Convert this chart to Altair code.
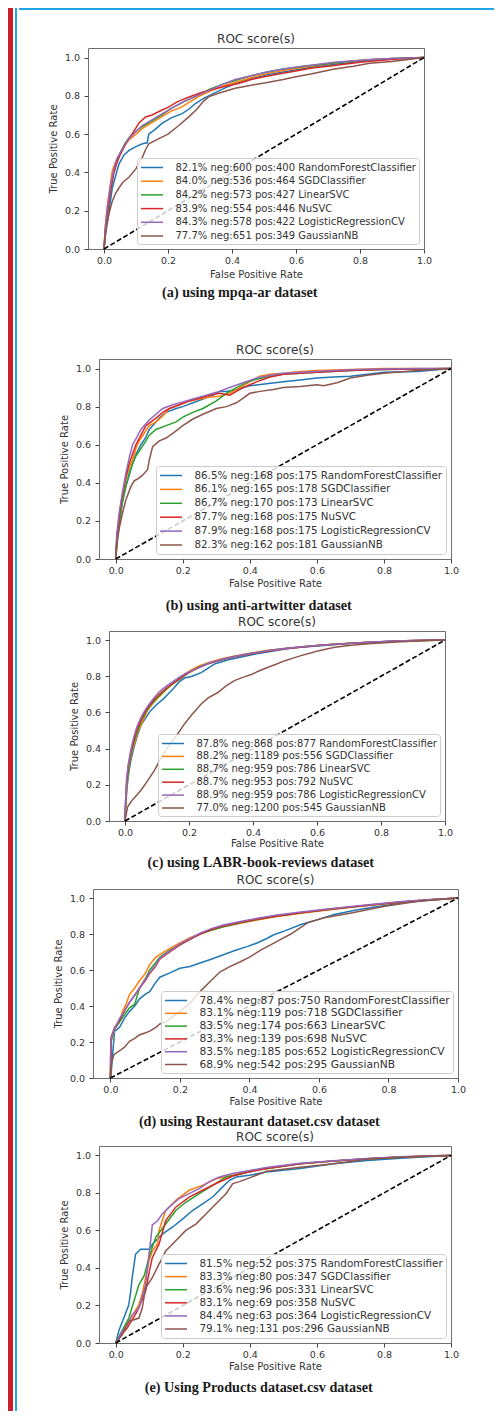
import altair as alt
import pandas as pd

# ---------------- data ----------------
CLASSIFIERS = ["RandomForestClassifier", "SGDClassifier", "LinearSVC", "NuSVC",
               "LogisticRegressionCV", "GaussianNB"]
TAB = ["#1f77b4", "#ff7f0e", "#2ca02c", "#d62728", "#9467bd", "#8c564b"]
TICKS = [0.0, 0.2, 0.4, 0.6, 0.8, 1.0]
DIAG_X = [0.0, 1.0]
DIAG_Y = [0.0, 1.0]

# (a) mpqa-ar
A_SCORES = ["82.1% neg:600 pos:400", "84.0% neg:536 pos:464", "84.2% neg:573 pos:427",
            "83.9% neg:554 pos:446", "84.3% neg:578 pos:422", "77.7% neg:651 pos:349"]
A_RF_X = [0, 0.005, 0.016, 0.026, 0.036, 0.047, 0.062, 0.078, 0.10, 0.12, 0.135, 0.14, 0.16, 0.18, 0.21, 0.244, 0.265, 0.286, 0.31, 0.327, 0.37, 0.41, 0.46, 0.51, 0.56, 0.62, 0.67, 0.72, 0.78, 0.83, 0.9, 0.95, 1.0]
A_RF_Y = [0, 0.08, 0.20, 0.32, 0.38, 0.445, 0.49, 0.515, 0.535, 0.55, 0.555, 0.60, 0.625, 0.655, 0.685, 0.707, 0.73, 0.76, 0.785, 0.80, 0.835, 0.864, 0.89, 0.91, 0.925, 0.942, 0.955, 0.965, 0.975, 0.986, 0.993, 0.997, 1.0]
A_SGD_X = [0, 0.004, 0.01, 0.02, 0.026, 0.035, 0.047, 0.06, 0.078, 0.10, 0.12, 0.15, 0.18, 0.21, 0.24, 0.27, 0.30, 0.34, 0.38, 0.42, 0.47, 0.52, 0.57, 0.62, 0.67, 0.72, 0.78, 0.84, 0.9, 0.95, 1.0]
A_SGD_Y = [0, 0.12, 0.22, 0.34, 0.41, 0.45, 0.49, 0.53, 0.57, 0.60, 0.63, 0.66, 0.69, 0.72, 0.74, 0.77, 0.80, 0.83, 0.855, 0.875, 0.90, 0.92, 0.935, 0.948, 0.96, 0.972, 0.982, 0.99, 0.995, 0.998, 1.0]
A_LSVC_X = [0, 0.005, 0.012, 0.022, 0.03, 0.04, 0.05, 0.065, 0.08, 0.10, 0.12, 0.15, 0.18, 0.21, 0.25, 0.29, 0.33, 0.37, 0.41, 0.46, 0.51, 0.56, 0.62, 0.67, 0.72, 0.78, 0.84, 0.9, 0.95, 1.0]
A_LSVC_Y = [0, 0.10, 0.20, 0.33, 0.40, 0.45, 0.50, 0.55, 0.585, 0.615, 0.64, 0.67, 0.70, 0.735, 0.77, 0.80, 0.835, 0.86, 0.88, 0.905, 0.925, 0.94, 0.953, 0.963, 0.972, 0.982, 0.99, 0.995, 0.998, 1.0]
A_NU_X = [0, 0.004, 0.01, 0.02, 0.03, 0.04, 0.05, 0.065, 0.08, 0.095, 0.11, 0.13, 0.15, 0.18, 0.2, 0.23, 0.26, 0.3, 0.34, 0.38, 0.42, 0.46, 0.5, 0.55, 0.6, 0.65, 0.7, 0.75, 0.8, 0.86, 0.92, 0.96, 1.0]
A_NU_Y = [0, 0.09, 0.18, 0.30, 0.39, 0.45, 0.49, 0.54, 0.58, 0.62, 0.66, 0.69, 0.70, 0.725, 0.74, 0.77, 0.79, 0.815, 0.835, 0.85, 0.865, 0.885, 0.90, 0.915, 0.93, 0.945, 0.955, 0.965, 0.975, 0.985, 0.992, 0.997, 1.0]
A_LR_X = [0, 0.004, 0.01, 0.02, 0.03, 0.04, 0.05, 0.065, 0.08, 0.1, 0.12, 0.15, 0.18, 0.21, 0.25, 0.29, 0.33, 0.37, 0.41, 0.46, 0.51, 0.56, 0.62, 0.67, 0.72, 0.78, 0.84, 0.9, 0.95, 1.0]
A_LR_Y = [0, 0.11, 0.21, 0.33, 0.41, 0.47, 0.50, 0.545, 0.58, 0.615, 0.645, 0.675, 0.705, 0.735, 0.77, 0.80, 0.83, 0.86, 0.885, 0.905, 0.925, 0.94, 0.955, 0.965, 0.975, 0.984, 0.99, 0.995, 0.998, 1.0]
A_GNB_X = [0, 0.003, 0.008, 0.015, 0.026, 0.036, 0.047, 0.06, 0.078, 0.1, 0.12, 0.13, 0.14, 0.17, 0.2, 0.23, 0.265, 0.29, 0.31, 0.327, 0.36, 0.41, 0.46, 0.51, 0.56, 0.6, 0.65, 0.72, 0.78, 0.83, 0.9, 0.95, 1.0]
A_GNB_Y = [0, 0.06, 0.12, 0.18, 0.25, 0.29, 0.32, 0.35, 0.375, 0.42, 0.48, 0.52, 0.55, 0.575, 0.60, 0.64, 0.69, 0.73, 0.77, 0.795, 0.815, 0.84, 0.855, 0.87, 0.885, 0.90, 0.915, 0.94, 0.955, 0.97, 0.98, 0.99, 1.0]

# (b) anti-artwitter
B_SCORES = ["86.5% neg:168 pos:175", "86.1% neg:165 pos:178", "86.7% neg:170 pos:173",
            "87.7% neg:168 pos:175", "87.9% neg:168 pos:175", "82.3% neg:162 pos:181"]
B_RF_X = [0, 0.003, 0.01, 0.02, 0.03, 0.04, 0.05, 0.06, 0.075, 0.09, 0.1, 0.115, 0.13, 0.15, 0.18, 0.2, 0.23, 0.26, 0.29, 0.31, 0.33, 0.36, 0.4, 0.45, 0.5, 0.55, 0.6, 0.65, 0.7, 0.75, 0.8, 0.9, 1.0]
B_RF_Y = [0, 0.12, 0.2, 0.3, 0.38, 0.44, 0.5, 0.55, 0.6, 0.64, 0.68, 0.71, 0.74, 0.77, 0.79, 0.80, 0.82, 0.84, 0.86, 0.88, 0.88, 0.89, 0.91, 0.92, 0.93, 0.94, 0.95, 0.955, 0.96, 0.97, 0.98, 0.985, 1.0]
B_SGD_X = [0, 0.003, 0.01, 0.02, 0.03, 0.04, 0.05, 0.06, 0.07, 0.085, 0.1, 0.12, 0.14, 0.16, 0.19, 0.22, 0.25, 0.28, 0.31, 0.34, 0.37, 0.4, 0.43, 0.46, 0.5, 0.55, 0.6, 0.7, 0.8, 0.9, 1.0]
B_SGD_Y = [0, 0.1, 0.2, 0.32, 0.42, 0.48, 0.52, 0.58, 0.62, 0.66, 0.70, 0.72, 0.75, 0.79, 0.81, 0.83, 0.84, 0.85, 0.855, 0.87, 0.9, 0.93, 0.96, 0.97, 0.975, 0.985, 0.99, 0.995, 1.0, 1.0, 1.0]
B_LSVC_X = [0, 0.005, 0.012, 0.02, 0.03, 0.04, 0.05, 0.06, 0.075, 0.09, 0.1, 0.12, 0.15, 0.18, 0.2, 0.23, 0.26, 0.3, 0.33, 0.36, 0.4, 0.45, 0.5, 0.6, 0.7, 0.8, 0.9, 1.0]
B_LSVC_Y = [0, 0.1, 0.2, 0.3, 0.38, 0.45, 0.5, 0.54, 0.58, 0.62, 0.65, 0.68, 0.70, 0.72, 0.745, 0.77, 0.79, 0.83, 0.87, 0.9, 0.935, 0.955, 0.97, 0.98, 0.99, 0.995, 0.998, 1.0]
B_NU_X = [0, 0.004, 0.01, 0.02, 0.03, 0.04, 0.05, 0.06, 0.075, 0.09, 0.105, 0.12, 0.14, 0.16, 0.19, 0.22, 0.25, 0.28, 0.31, 0.34, 0.36, 0.38, 0.42, 0.46, 0.5, 0.6, 0.7, 0.8, 0.9, 1.0]
B_NU_Y = [0, 0.11, 0.22, 0.34, 0.43, 0.5, 0.55, 0.6, 0.65, 0.7, 0.72, 0.74, 0.77, 0.79, 0.81, 0.83, 0.845, 0.86, 0.87, 0.86, 0.88, 0.9, 0.93, 0.955, 0.97, 0.98, 0.99, 0.995, 0.998, 1.0]
B_LR_X = [0, 0.003, 0.01, 0.02, 0.03, 0.04, 0.05, 0.06, 0.075, 0.09, 0.1, 0.12, 0.14, 0.17, 0.2, 0.23, 0.26, 0.3, 0.34, 0.38, 0.42, 0.46, 0.5, 0.6, 0.7, 0.8, 0.9, 1.0]
B_LR_Y = [0, 0.13, 0.24, 0.35, 0.45, 0.53, 0.6, 0.63, 0.68, 0.71, 0.73, 0.76, 0.79, 0.81, 0.825, 0.84, 0.855, 0.875, 0.9, 0.925, 0.95, 0.965, 0.975, 0.985, 0.993, 0.997, 1.0, 1.0]
B_GNB_X = [0, 0.003, 0.01, 0.02, 0.03, 0.045, 0.055, 0.065, 0.08, 0.095, 0.1, 0.11, 0.13, 0.15, 0.17, 0.2, 0.23, 0.26, 0.3, 0.33, 0.36, 0.38, 0.4, 0.43, 0.47, 0.5, 0.55, 0.6, 0.62, 0.66, 0.7, 0.75, 0.8, 0.9, 1.0]
B_GNB_Y = [0, 0.08, 0.16, 0.24, 0.31, 0.38, 0.41, 0.42, 0.44, 0.47, 0.52, 0.59, 0.62, 0.635, 0.66, 0.70, 0.735, 0.76, 0.79, 0.80, 0.82, 0.845, 0.87, 0.88, 0.89, 0.9, 0.905, 0.915, 0.91, 0.925, 0.95, 0.965, 0.975, 0.99, 1.0]

# (c) LABR-book-reviews
C_SCORES = ["87.8% neg:868 pos:877", "88.2% neg:1189 pos:556", "88.7% neg:959 pos:786",
            "88.7% neg:953 pos:792", "88.9% neg:959 pos:786", "77.0% neg:1200 pos:545"]
C_RF_X = [0, 0.002, 0.006, 0.012, 0.02, 0.03, 0.04, 0.05, 0.065, 0.08, 0.1, 0.12, 0.134, 0.15, 0.17, 0.186, 0.21, 0.238, 0.26, 0.28, 0.32, 0.36, 0.4, 0.45, 0.5, 0.55, 0.6, 0.66, 0.72, 0.8, 0.9, 1.0]
C_RF_Y = [0, 0.08, 0.18, 0.27, 0.35, 0.42, 0.48, 0.53, 0.57, 0.61, 0.645, 0.675, 0.70, 0.73, 0.77, 0.79, 0.80, 0.82, 0.845, 0.868, 0.89, 0.905, 0.92, 0.935, 0.95, 0.96, 0.967, 0.975, 0.983, 0.99, 0.996, 1.0]
C_SGD_X = [0, 0.002, 0.006, 0.012, 0.02, 0.03, 0.04, 0.05, 0.06, 0.07, 0.085, 0.1, 0.12, 0.134, 0.15, 0.165, 0.185, 0.207, 0.23, 0.26, 0.3, 0.342, 0.4, 0.447, 0.5, 0.55, 0.6, 0.656, 0.7, 0.76, 0.85, 0.93, 1.0]
C_SGD_Y = [0, 0.09, 0.2, 0.29, 0.37, 0.43, 0.49, 0.53, 0.57, 0.61, 0.645, 0.675, 0.71, 0.735, 0.76, 0.78, 0.81, 0.835, 0.855, 0.875, 0.895, 0.912, 0.93, 0.943, 0.953, 0.962, 0.97, 0.977, 0.982, 0.988, 0.994, 0.998, 1.0]
C_LSVC_X = [0, 0.002, 0.006, 0.012, 0.02, 0.03, 0.04, 0.05, 0.065, 0.08, 0.1, 0.12, 0.14, 0.16, 0.18, 0.2, 0.23, 0.26, 0.3, 0.34, 0.4, 0.45, 0.5, 0.55, 0.6, 0.66, 0.72, 0.8, 0.9, 1.0]
C_LSVC_Y = [0, 0.1, 0.21, 0.3, 0.38, 0.45, 0.5, 0.55, 0.6, 0.64, 0.68, 0.715, 0.745, 0.77, 0.795, 0.82, 0.85, 0.87, 0.89, 0.908, 0.928, 0.942, 0.953, 0.962, 0.97, 0.977, 0.984, 0.991, 0.997, 1.0]
C_NU_X = [0, 0.002, 0.005, 0.01, 0.018, 0.028, 0.038, 0.05, 0.062, 0.075, 0.09, 0.11, 0.13, 0.15, 0.17, 0.19, 0.21, 0.24, 0.27, 0.31, 0.35, 0.4, 0.45, 0.5, 0.56, 0.62, 0.68, 0.75, 0.82, 0.9, 1.0]
C_NU_Y = [0, 0.11, 0.22, 0.3, 0.38, 0.45, 0.51, 0.56, 0.6, 0.635, 0.67, 0.705, 0.735, 0.76, 0.785, 0.81, 0.83, 0.855, 0.875, 0.895, 0.91, 0.926, 0.94, 0.952, 0.963, 0.972, 0.979, 0.986, 0.992, 0.997, 1.0]
C_LR_X = [0, 0.002, 0.005, 0.01, 0.018, 0.027, 0.037, 0.048, 0.06, 0.073, 0.088, 0.105, 0.125, 0.145, 0.165, 0.19, 0.215, 0.24, 0.27, 0.31, 0.35, 0.4, 0.45, 0.5, 0.56, 0.62, 0.68, 0.75, 0.82, 0.9, 1.0]
C_LR_Y = [0, 0.12, 0.23, 0.31, 0.39, 0.46, 0.52, 0.565, 0.605, 0.64, 0.675, 0.71, 0.74, 0.765, 0.79, 0.815, 0.835, 0.855, 0.877, 0.897, 0.912, 0.928, 0.942, 0.953, 0.964, 0.973, 0.98, 0.987, 0.993, 0.998, 1.0]
C_GNB_X = [0, 0.004, 0.008, 0.02, 0.035, 0.05, 0.07, 0.092, 0.11, 0.134, 0.16, 0.186, 0.21, 0.238, 0.26, 0.29, 0.315, 0.342, 0.37, 0.395, 0.42, 0.447, 0.47, 0.5, 0.525, 0.55, 0.58, 0.603, 0.63, 0.656, 0.7, 0.76, 0.81, 0.864, 0.93, 1.0]
C_GNB_Y = [0, 0.04, 0.077, 0.11, 0.14, 0.17, 0.22, 0.28, 0.34, 0.41, 0.47, 0.537, 0.59, 0.647, 0.68, 0.71, 0.745, 0.776, 0.795, 0.81, 0.83, 0.85, 0.865, 0.886, 0.9, 0.914, 0.928, 0.94, 0.95, 0.96, 0.97, 0.98, 0.985, 0.99, 0.996, 1.0]

# (d) Restaurant dataset.csv
D_SCORES = ["78.4% neg:87 pos:750", "83.1% neg:119 pos:718", "83.5% neg:174 pos:663",
            "83.3% neg:139 pos:698", "83.5% neg:185 pos:652", "68.9% neg:542 pos:295"]
D_RF_X = [0, 0.002, 0.006, 0.012, 0.02, 0.026, 0.04, 0.055, 0.07, 0.084, 0.1, 0.113, 0.13, 0.142, 0.171, 0.2, 0.229, 0.26, 0.29, 0.325, 0.36, 0.393, 0.422, 0.45, 0.47, 0.5, 0.548, 0.596, 0.644, 0.7, 0.741, 0.79, 0.838, 0.9, 1.0]
D_RF_Y = [0, 0.02, 0.12, 0.26, 0.27, 0.28, 0.33, 0.37, 0.4, 0.44, 0.465, 0.48, 0.53, 0.56, 0.584, 0.61, 0.62, 0.64, 0.66, 0.685, 0.71, 0.73, 0.75, 0.775, 0.796, 0.816, 0.853, 0.88, 0.908, 0.93, 0.945, 0.958, 0.972, 0.985, 1.0]
D_SGD_X = [0, 0.002, 0.002, 0.012, 0.026, 0.035, 0.045, 0.055, 0.07, 0.084, 0.1, 0.113, 0.13, 0.142, 0.171, 0.2, 0.229, 0.277, 0.325, 0.374, 0.422, 0.48, 0.548, 0.644, 0.741, 0.838, 0.92, 1.0]
D_SGD_Y = [0, 0.1, 0.2, 0.27, 0.31, 0.37, 0.41, 0.465, 0.5, 0.54, 0.58, 0.63, 0.67, 0.685, 0.72, 0.75, 0.78, 0.814, 0.84, 0.86, 0.878, 0.897, 0.915, 0.937, 0.958, 0.978, 0.99, 1.0]
D_LSVC_X = [0, 0.002, 0.002, 0.012, 0.026, 0.04, 0.055, 0.07, 0.084, 0.1, 0.113, 0.13, 0.142, 0.171, 0.2, 0.229, 0.258, 0.29, 0.325, 0.374, 0.422, 0.48, 0.548, 0.644, 0.741, 0.838, 0.92, 1.0]
D_LSVC_Y = [0, 0.12, 0.21, 0.27, 0.31, 0.35, 0.39, 0.41, 0.5, 0.55, 0.6, 0.64, 0.67, 0.71, 0.74, 0.77, 0.8, 0.82, 0.84, 0.862, 0.88, 0.9, 0.918, 0.94, 0.96, 0.978, 0.99, 1.0]
D_NU_X = [0, 0.002, 0.002, 0.012, 0.026, 0.04, 0.055, 0.07, 0.084, 0.1, 0.113, 0.13, 0.142, 0.171, 0.2, 0.229, 0.258, 0.29, 0.325, 0.374, 0.422, 0.48, 0.548, 0.644, 0.741, 0.838, 0.92, 1.0]
D_NU_Y = [0, 0.15, 0.226, 0.28, 0.32, 0.37, 0.42, 0.46, 0.5, 0.54, 0.58, 0.62, 0.66, 0.7, 0.74, 0.77, 0.8, 0.825, 0.845, 0.865, 0.882, 0.9, 0.918, 0.94, 0.96, 0.978, 0.99, 1.0]
D_LR_X = [0, 0.0, 0.002, 0.012, 0.026, 0.04, 0.055, 0.07, 0.084, 0.1, 0.113, 0.13, 0.142, 0.171, 0.2, 0.229, 0.258, 0.29, 0.325, 0.374, 0.422, 0.48, 0.548, 0.644, 0.741, 0.838, 0.92, 1.0]
D_LR_Y = [0, 0.1, 0.22, 0.27, 0.33, 0.37, 0.42, 0.46, 0.5, 0.545, 0.585, 0.625, 0.665, 0.705, 0.745, 0.775, 0.805, 0.83, 0.85, 0.87, 0.887, 0.905, 0.922, 0.943, 0.962, 0.98, 0.992, 1.0]
D_GNB_X = [0, 0.002, 0.01, 0.026, 0.04, 0.055, 0.07, 0.084, 0.1, 0.113, 0.13, 0.142, 0.16, 0.171, 0.2, 0.229, 0.258, 0.287, 0.316, 0.345, 0.374, 0.403, 0.432, 0.461, 0.49, 0.519, 0.567, 0.615, 0.693, 0.789, 0.886, 1.0]
D_GNB_Y = [0, 0.07, 0.13, 0.15, 0.17, 0.204, 0.22, 0.24, 0.25, 0.26, 0.28, 0.3, 0.31, 0.33, 0.37, 0.415, 0.48, 0.536, 0.59, 0.62, 0.646, 0.674, 0.71, 0.74, 0.77, 0.8, 0.862, 0.89, 0.917, 0.954, 0.982, 1.0]

# (e) Products dataset.csv
E_SCORES = ["81.5% neg:52 pos:375", "83.3% neg:80 pos:347", "83.6% neg:96 pos:331",
            "83.1% neg:69 pos:358", "84.4% neg:63 pos:364", "79.1% neg:131 pos:296"]
E_RF_X = [0, 0.01, 0.024, 0.039, 0.045, 0.049, 0.059, 0.074, 0.099, 0.105, 0.109, 0.139, 0.169, 0.199, 0.229, 0.259, 0.289, 0.319, 0.339, 0.359, 0.399, 0.449, 0.55, 0.65, 0.75, 0.85, 0.9, 1.0]
E_RF_Y = [0, 0.07, 0.133, 0.204, 0.28, 0.348, 0.473, 0.5, 0.5, 0.51, 0.527, 0.58, 0.617, 0.66, 0.706, 0.742, 0.778, 0.832, 0.867, 0.885, 0.894, 0.912, 0.93, 0.955, 0.973, 0.985, 0.99, 1.0]
E_SGD_X = [0, 0.02, 0.039, 0.069, 0.08, 0.089, 0.099, 0.109, 0.124, 0.129, 0.149, 0.179, 0.219, 0.259, 0.299, 0.349, 0.399, 0.449, 0.55, 0.65, 0.75, 0.85, 0.95, 1.0]
E_SGD_Y = [0, 0.06, 0.115, 0.204, 0.27, 0.348, 0.437, 0.49, 0.527, 0.6, 0.706, 0.76, 0.814, 0.84, 0.875, 0.894, 0.918, 0.93, 0.955, 0.97, 0.982, 0.992, 0.998, 1.0]
E_LSVC_X = [0, 0.02, 0.039, 0.069, 0.085, 0.099, 0.119, 0.149, 0.179, 0.209, 0.249, 0.289, 0.329, 0.369, 0.419, 0.49, 0.55, 0.65, 0.75, 0.85, 0.95, 1.0]
E_LSVC_Y = [0, 0.07, 0.133, 0.31, 0.36, 0.455, 0.563, 0.634, 0.706, 0.75, 0.796, 0.84, 0.885, 0.9, 0.921, 0.94, 0.955, 0.97, 0.982, 0.99, 0.998, 1.0]
E_NU_X = [0, 0.015, 0.034, 0.064, 0.089, 0.1, 0.109, 0.129, 0.149, 0.179, 0.219, 0.259, 0.299, 0.349, 0.399, 0.449, 0.55, 0.65, 0.75, 0.85, 0.95, 1.0]
E_NU_Y = [0, 0.04, 0.079, 0.168, 0.276, 0.38, 0.455, 0.527, 0.652, 0.724, 0.778, 0.814, 0.85, 0.89, 0.912, 0.93, 0.955, 0.97, 0.982, 0.992, 0.998, 1.0]
E_LR_X = [0, 0.015, 0.034, 0.049, 0.069, 0.089, 0.099, 0.105, 0.109, 0.124, 0.139, 0.159, 0.189, 0.219, 0.249, 0.279, 0.309, 0.349, 0.399, 0.449, 0.55, 0.65, 0.75, 0.85, 0.95, 1.0]
E_LR_Y = [0, 0.05, 0.097, 0.15, 0.186, 0.31, 0.47, 0.56, 0.63, 0.65, 0.688, 0.724, 0.77, 0.796, 0.823, 0.86, 0.885, 0.903, 0.92, 0.935, 0.958, 0.972, 0.984, 0.993, 0.998, 1.0]
E_GNB_X = [0, 0.019, 0.039, 0.069, 0.079, 0.089, 0.109, 0.129, 0.149, 0.179, 0.209, 0.239, 0.269, 0.299, 0.329, 0.349, 0.369, 0.399, 0.45, 0.55, 0.65, 0.75, 0.85, 1.0]
E_GNB_Y = [0, 0.043, 0.115, 0.133, 0.186, 0.294, 0.348, 0.42, 0.49, 0.545, 0.6, 0.634, 0.688, 0.742, 0.796, 0.85, 0.86, 0.88, 0.915, 0.937, 0.955, 0.98, 0.99, 1.0]

CAPTIONS = ["(a) using mpqa-ar dataset",
            "(b) using anti-artwitter dataset",
            "(c) using LABR-book-reviews dataset",
            "(d) using Restaurant dataset.csv dataset",
            "(e) Using Products dataset.csv dataset"]

SANS = "DejaVu Sans"
SERIF = "Liberation Serif"
TXT = "#333333"


def blank(w, h, fill="white"):
    return (alt.Chart(pd.DataFrame({"v": [0]}))
            .mark_point(opacity=0, size=0, strokeWidth=0, filled=True)
            .encode(x=alt.value(0), y=alt.value(0))
            .properties(width=w, height=h,
                        view=alt.ViewBackground(fill=fill, stroke="transparent", strokeWidth=0)))


def roc_panel(curves, scores, caption, W, H, leg_fs, leg_rp, xt_y, cap_off):
    labels = [s + " " + c for s, c in zip(scores, CLASSIFIERS)]
    rows = []
    for k, (xs, ys) in enumerate(curves):
        for i, (xv, yv) in enumerate(zip(xs, ys)):
            rows.append({"fpr": xv, "tpr": yv, "model": labels[k], "i": i})
    df = pd.DataFrame(rows)
    ddf = pd.DataFrame({"fpr": DIAG_X, "tpr": DIAG_Y, "i": [0, 1]})

    xscale = alt.Scale(domain=[-0.05, 1.0], nice=False, zero=False)
    yscale = alt.Scale(domain=[0.0, 1.05], nice=False, zero=False)
    common = dict(values=TICKS, format=".1f", domain=False, grid=False,
                  tickSize=4, tickColor="#444444", tickWidth=1,
                  labelFont=SANS, labelFontSize=9.5, labelColor=TXT,
                  labelFlush=False, titleFont=SANS, titleFontSize=10,
                  titleFontWeight="normal", titleColor=TXT,
                  titleAlign="center", titleBaseline="middle")
    xaxis = alt.Axis(title="False Positive Rate", labelPadding=2,
                     titleX=W / 2, titleY=xt_y, **common)
    yaxis = alt.Axis(title="True Positive Rate", labelPadding=4.5,
                     titleX=-35, titleY=H / 2, titleAngle=270, **common)
    X = alt.X("fpr:Q", scale=xscale, axis=xaxis)
    Y = alt.Y("tpr:Q", scale=yscale, axis=yaxis)

    legend = alt.Legend(title=None, orient="bottom-right", offset=5,
                        symbolType="M-2,0H2", symbolSize=121, symbolStrokeWidth=1.5,
                        symbolOffset=5.5, labelOffset=17,
                        labelFont=SANS, labelFontSize=leg_fs, labelColor=TXT,
                        labelLimit=400, rowPadding=leg_rp, padding=3,
                        fillColor="rgba(255,255,255,0.8)", strokeColor="#cccccc",
                        cornerRadius=3)
    lines = alt.Chart(df).mark_line(strokeWidth=1.5, clip=True).encode(
        x=X, y=Y,
        color=alt.Color("model:N", scale=alt.Scale(domain=labels, range=TAB), legend=legend),
        order="i:Q")
    diag = alt.Chart(ddf).mark_line(color="black", strokeDash=[5, 2.5], strokeWidth=1.6).encode(
        x=X, y=Y, order="i:Q")
    layer = alt.layer(lines, diag).properties(
        width=W, height=H,
        title=alt.Title("ROC score(s)", font=SANS, fontSize=12, fontWeight="normal",
                        color=TXT, offset=1.6, anchor="middle"))
    return alt.vconcat(layer, title=alt.Title(caption, orient="bottom", anchor="middle",
                                              font=SERIF, fontSize=14.2, fontWeight="bold",
                                              color="#1a1a1a", offset=cap_off)
                       ).resolve_scale(color="independent")


panel_a = roc_panel([(A_RF_X, A_RF_Y), (A_SGD_X, A_SGD_Y), (A_LSVC_X, A_LSVC_Y),
                     (A_NU_X, A_NU_Y), (A_LR_X, A_LR_Y), (A_GNB_X, A_GNB_Y)],
                    A_SCORES, CAPTIONS[0], 336, 201, 10, 1.7, 25, 6.5)
panel_b = roc_panel([(B_RF_X, B_RF_Y), (B_SGD_X, B_SGD_Y), (B_LSVC_X, B_LSVC_Y),
                     (B_NU_X, B_NU_Y), (B_LR_X, B_LR_Y), (B_GNB_X, B_GNB_Y)],
                    B_SCORES, CAPTIONS[1], 352, 200, 10.3, 1.9, 24, 10.5)
panel_c = roc_panel([(C_RF_X, C_RF_Y), (C_SGD_X, C_SGD_Y), (C_LSVC_X, C_LSVC_Y),
                     (C_NU_X, C_NU_Y), (C_LR_X, C_LR_Y), (C_GNB_X, C_GNB_Y)],
                    C_SCORES, CAPTIONS[2], 336, 190, 10, 0.9, 22, 7.5)
panel_d = roc_panel([(D_RF_X, D_RF_Y), (D_SGD_X, D_SGD_Y), (D_LSVC_X, D_LSVC_Y),
                     (D_NU_X, D_NU_Y), (D_LR_X, D_LR_Y), (D_GNB_X, D_GNB_Y)],
                    D_SCORES, CAPTIONS[3], 365, 189, 10.7, 0.8, 23, 8.5)
panel_e = roc_panel([(E_RF_X, E_RF_Y), (E_SGD_X, E_SGD_Y), (E_LSVC_X, E_LSVC_Y),
                     (E_NU_X, E_NU_Y), (E_LR_X, E_LR_Y), (E_GNB_X, E_GNB_Y)],
                    E_SCORES, CAPTIONS[4], 352, 197, 10.4, 1.1, 23, 9.5)


def row(indent, panel):
    return alt.hconcat(blank(indent, 1), panel, spacing=0).resolve_scale(color="independent")


column = alt.vconcat(
    blank(475, 2, "#1ea5e6"),
    blank(1, 22),
    row(28, panel_a),
    blank(1, 41.5),
    row(39, panel_b),
    blank(1, 0.5),
    row(49, panel_c),
    blank(1, 1.5),
    row(33, panel_d),
    row(39, panel_e),
    spacing=0,
).resolve_scale(color="independent")

chart = alt.hconcat(
    blank(5, 1403, "#cc1f2b"),
    blank(2, 1403, "#1ea5e6"),
    column,
    spacing=2,
).resolve_scale(color="independent").properties(
    padding=0, background="white"
).configure_view(stroke="#6e6e6e", strokeWidth=1)

chart.save("out.html", embed_options={"renderer": "svg", "actions": False})
